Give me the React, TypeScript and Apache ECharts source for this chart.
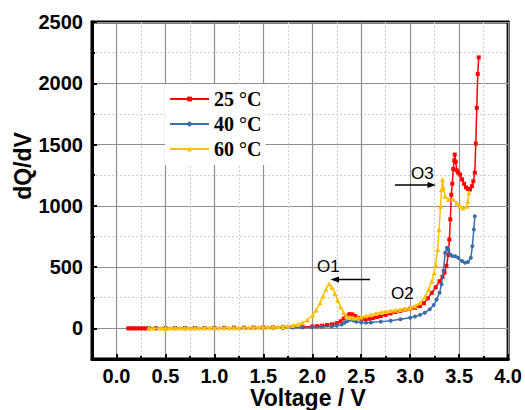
import React, { useEffect, useRef } from "react";
import * as echarts from "echarts";

const seriesNames = ["25 °C", "40 °C", "60 °C"];
const seriesColors = ["#ff0000", "#3b6ea8", "#ffc000"];
const seriesSymbols = ["rect", "circle", "triangle"];

const data25: [number, number][] = [
  [0.12, 0], [0.15, 0], [0.18, 0], [0.21, 0], [0.24, 0], [0.27, 0], [0.3, 0], [0.33, 0],
  [0.4, 1], [0.5, 1], [0.6, 2], [0.7, 2], [0.8, 3], [0.9, 3], [1.0, 4], [1.1, 4], [1.2, 5],
  [1.3, 5], [1.4, 6], [1.5, 7], [1.6, 8], [1.7, 9], [1.8, 11], [1.9, 13], [2.0, 16], [2.05, 18],
  [2.1, 22], [2.15, 27], [2.2, 33], [2.25, 42], [2.29, 58], [2.32, 80], [2.35, 102], [2.38, 116],
  [2.41, 114], [2.44, 100], [2.47, 86], [2.5, 78], [2.54, 75], [2.58, 78], [2.62, 84], [2.66, 92],
  [2.7, 100], [2.75, 110], [2.8, 122], [2.85, 133], [2.9, 143], [2.95, 152], [3.0, 160], [3.05, 168],
  [3.1, 182], [3.14, 205], [3.18, 245], [3.22, 290], [3.26, 335], [3.3, 385], [3.33, 420], [3.35, 455],
  [3.37, 510], [3.39, 600], [3.4, 725], [3.41, 890], [3.42, 1090], [3.43, 1180], [3.44, 1300],
  [3.45, 1370], [3.455, 1418], [3.465, 1360], [3.475, 1290], [3.49, 1270], [3.51, 1255], [3.53, 1215],
  [3.55, 1180], [3.57, 1150], [3.59, 1138], [3.61, 1133], [3.63, 1160], [3.645, 1200], [3.66, 1270],
  [3.67, 1508], [3.68, 1800], [3.69, 2076], [3.7, 2211],
];

const data40: [number, number][] = [
  [0.33, 0], [0.4, 0], [0.5, 1], [0.6, 1], [0.7, 1], [0.8, 2], [0.9, 2], [1.0, 2], [1.1, 3],
  [1.2, 3], [1.3, 3], [1.4, 4], [1.5, 4], [1.6, 5], [1.7, 5], [1.8, 6], [1.9, 7], [2.0, 9],
  [2.1, 12], [2.2, 16], [2.25, 22], [2.3, 32], [2.33, 45], [2.36, 60], [2.39, 70], [2.42, 64],
  [2.45, 54], [2.5, 47], [2.55, 46], [2.6, 48], [2.7, 55], [2.8, 63], [2.9, 74], [3.0, 87],
  [3.05, 96], [3.1, 110], [3.15, 128], [3.2, 155], [3.24, 190], [3.27, 235], [3.3, 290], [3.32, 360],
  [3.34, 470], [3.357, 617], [3.375, 658], [3.39, 640], [3.41, 603], [3.43, 590], [3.46, 589],
  [3.49, 576], [3.53, 549], [3.56, 535], [3.59, 541], [3.62, 576], [3.635, 671], [3.65, 807], [3.66, 915],
];

const data60: [number, number][] = [
  [0.33, 0], [0.38, 1], [0.45, 1], [0.5, 1], [0.55, 2], [0.6, 2], [0.65, 2], [0.7, 3], [0.75, 3],
  [0.8, 3], [0.85, 3], [0.9, 4], [0.95, 4], [1.0, 4], [1.05, 5], [1.1, 5], [1.15, 5], [1.2, 6],
  [1.25, 6], [1.3, 7], [1.35, 7], [1.4, 8], [1.45, 9], [1.5, 10], [1.55, 11], [1.6, 12], [1.65, 14],
  [1.7, 16], [1.75, 19], [1.8, 24], [1.85, 32], [1.9, 45], [1.95, 68], [2.0, 105], [2.04, 150],
  [2.08, 210], [2.11, 265], [2.14, 320], [2.17, 365], [2.2, 335], [2.23, 285], [2.26, 230], [2.29, 175],
  [2.32, 130], [2.35, 100], [2.38, 88], [2.42, 84], [2.46, 86], [2.5, 92], [2.55, 102], [2.6, 112],
  [2.65, 122], [2.7, 130], [2.75, 137], [2.8, 143], [2.85, 148], [2.9, 153], [2.95, 158], [3.0, 166],
  [3.05, 182], [3.1, 210], [3.15, 255], [3.19, 320], [3.22, 385], [3.245, 454], [3.26, 520],
  [3.28, 644], [3.295, 807], [3.31, 997], [3.32, 1133], [3.33, 1214], [3.34, 1150], [3.355, 1078],
  [3.39, 1051], [3.44, 1051], [3.475, 1024], [3.51, 997], [3.54, 983], [3.58, 997], [3.59, 1038],
  [3.6, 1106],
];

const allData = [data25, data40, data60];
const symbolSizes = [4, 4, 5];

const xAxisTitle = "Voltage / V";
const yAxisTitle = "dQ/dV";
const peakLabels = ["O1", "O2", "O3"];

export default function App() {
  const ref = useRef<HTMLDivElement>(null);
  useEffect(() => {
    if (!ref.current) return;
    const chart = echarts.init(ref.current, undefined, { renderer: "svg" });
    const tickFont = { fontFamily: '"Liberation Sans", Arial, sans-serif', fontWeight: "bold" as const, fontSize: 20, color: "#000" };
    chart.setOption({
      animation: false,
      backgroundColor: "#fff",
      grid: { left: 92, right: 15, top: 22, bottom: 51, show: true, borderColor: "#000", borderWidth: 3, backgroundColor: "transparent" },
      legend: {
        orient: "vertical",
        left: 165,
        top: 84,
        padding: [5, 4, 6, 4],
        backgroundColor: "#fff",
        itemWidth: 39,
        itemHeight: 6,
        itemGap: 5,
        data: seriesNames,
        textStyle: { fontFamily: '"Liberation Serif", "Times New Roman", serif', fontWeight: "bold", fontSize: 20, color: "#000", lineHeight: 20 },
      },
      xAxis: {
        type: "value",
        min: -0.25,
        max: 4,
        minInterval: 0.5,
        maxInterval: 0.5,
        axisLine: { show: true, onZero: false, lineStyle: { color: "#000", width: 3 } },
        axisTick: { show: true, inside: true, length: 5, lineStyle: { color: "#000", width: 2 } },
        minorTick: { show: true, splitNumber: 2, length: 3, lineStyle: { color: "#000", width: 2 } },
        splitLine: { show: true, lineStyle: { color: "#8f8f8f", width: 1.2 } },
        minorSplitLine: { show: true, lineStyle: { color: "#cfcfcf", width: 1, type: [2, 2] } },
        axisLabel: {
          ...tickFont,
          margin: 7,
          formatter: (v: number) => (Math.abs(v * 2 - Math.round(v * 2)) < 1e-9 ? v.toFixed(1) : ""),
        },
      },
      yAxis: {
        type: "value",
        min: -250,
        max: 2500,
        minInterval: 500,
        maxInterval: 500,
        axisLine: { show: true, onZero: false, lineStyle: { color: "#000", width: 3 } },
        axisTick: { show: true, inside: true, length: 5, lineStyle: { color: "#000", width: 2 } },
        minorTick: { show: true, splitNumber: 2, length: 3, lineStyle: { color: "#000", width: 2 } },
        splitLine: { show: true, lineStyle: { color: "#8f8f8f", width: 1.2 } },
        minorSplitLine: { show: true, lineStyle: { color: "#cfcfcf", width: 1, type: [2, 2] } },
        axisLabel: {
          ...tickFont,
          margin: 9,
          formatter: (v: number) => (v % 500 === 0 ? String(v) : ""),
        },
      },
      series: allData.map((d, i) => ({
        name: seriesNames[i],
        type: "line",
        data: d,
        symbol: seriesSymbols[i],
        symbolSize: symbolSizes[i],
        showAllSymbol: true,
        color: seriesColors[i],
        lineStyle: { color: seriesColors[i], width: 1.5 },
        itemStyle: { color: seriesColors[i] },
        z: 2 + i,
      })),
      graphic: [
        {
          type: "text",
          x: 23,
          y: 166,
          rotation: Math.PI / 2,
          style: { text: yAxisTitle, x: 0, y: 0, align: "center", verticalAlign: "middle", font: 'bold 23px "Liberation Sans", Arial, sans-serif', fill: "#000" },
        },
        {
          type: "text",
          x: 308,
          y: 398,
          style: { text: xAxisTitle, align: "center", verticalAlign: "middle", font: 'bold 23px "Liberation Sans", Arial, sans-serif', fill: "#000" },
        },
        { type: "text", x: 317, y: 266, z: 10, style: { text: peakLabels[0], verticalAlign: "middle", font: '17px "Liberation Sans", Arial, sans-serif', fill: "#000" } },
        { type: "text", x: 391, y: 293, z: 10, style: { text: peakLabels[1], verticalAlign: "middle", font: '17px "Liberation Sans", Arial, sans-serif', fill: "#000" } },
        { type: "text", x: 411, y: 173, z: 10, style: { text: peakLabels[2], verticalAlign: "middle", font: '17px "Liberation Sans", Arial, sans-serif', fill: "#000" } },
        { type: "line", z: 10, shape: { x1: 370, y1: 279.5, x2: 337, y2: 279.5 }, style: { stroke: "#000", lineWidth: 1.3 } },
        { type: "polygon", z: 10, shape: { points: [[330.5, 279.5], [339, 276.5], [339, 282.5]] }, style: { fill: "#000" } },
        { type: "line", z: 10, shape: { x1: 395, y1: 185, x2: 429, y2: 185 }, style: { stroke: "#000", lineWidth: 1.3 } },
        { type: "polygon", z: 10, shape: { points: [[436, 185], [427.5, 182], [427.5, 188]] }, style: { fill: "#000" } },
      ],
    });
    return () => chart.dispose();
  }, []);
  return <div ref={ref} style={{ position: "fixed", left: 0, top: 0, width: 525, height: 410 }} />;
}
